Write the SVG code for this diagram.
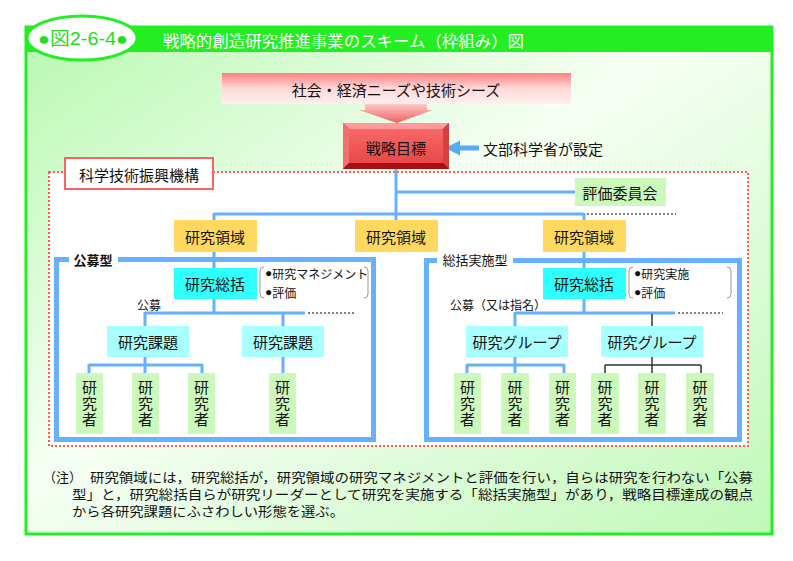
<svg xmlns="http://www.w3.org/2000/svg" width="793" height="561" viewBox="0 0 793 561">
<defs>
<linearGradient id="bg" x1="0" y1="0" x2="1" y2="1">
<stop offset="0" stop-color="#b8f8b0"/>
<stop offset="0.45" stop-color="#f6fff4"/>
<stop offset="1" stop-color="#c0f8b8"/>
</linearGradient>
<linearGradient id="pink" x1="0" y1="0" x2="0" y2="1">
<stop offset="0" stop-color="#ff8080"/>
<stop offset="0.5" stop-color="#ffd8d8"/>
<stop offset="1" stop-color="#fff0f0"/>
</linearGradient>
<linearGradient id="arrowg" x1="0" y1="0" x2="0" y2="1">
<stop offset="0" stop-color="#ffc8c8"/>
<stop offset="1" stop-color="#f06060"/>
</linearGradient>
<linearGradient id="face" x1="0" y1="0" x2="0" y2="1">
<stop offset="0" stop-color="#f86868"/>
<stop offset="1" stop-color="#e84848"/>
</linearGradient>
<marker id="bluehead" viewBox="0 0 10 10" refX="2" refY="5" markerWidth="3" markerHeight="3.2" orient="auto-start-reverse">
<path d="M0,0 L10,5 L0,10 z" fill="#5aaaf5"/>
</marker>
<style>
.t{font-family:"Noto Sans CJK JP","Noto Sans",sans-serif;fill:#111;dominant-baseline:central;text-anchor:middle}
.ts{font-size:15px}
.v{writing-mode:vertical-rl;letter-spacing:1px}
.b{font-family:"Liberation Sans","DejaVu Sans",sans-serif}
.yel{fill:#ffd860}
.cyan{fill:#30ffff}
.lcyan{fill:#a8ffff}
.lgreen{fill:#ccf8bc}
.bl{stroke:#66b0ff;stroke-width:3;fill:none}
.bk{stroke:#333;stroke-width:1.5;fill:none}
.dot{stroke:#555;stroke-width:1.5;stroke-dasharray:2 2;fill:none}
.frame{stroke:#66b0ff;stroke-width:5;fill:none}
.brk{stroke:#999;stroke-width:1;fill:none}
.sm{text-anchor:start;font-size:12px}
.note{font-family:"Liberation Serif","Noto Sans CJK JP",serif;font-size:13px;fill:#111;dominant-baseline:central}
</style>
</defs>

<!-- outer frame -->
<rect x="0" y="0" width="793" height="561" fill="#ffffff"/>
<rect x="26" y="27" width="746" height="507" fill="url(#bg)" stroke="#22ee22" stroke-width="3"/>
<rect x="26" y="27" width="746" height="25" fill="#22ee22"/>
<g id="fig-label">
<ellipse cx="82" cy="38" rx="55" ry="22" fill="#ffffff" stroke="#22ee22" stroke-width="3"/>
<text x="83" y="39" class="t" style="font-size:18px;fill:#22dd22;font-family:'Liberation Sans','Noto Sans CJK JP',sans-serif" textLength="90" lengthAdjust="spacingAndGlyphs">●図2-6-4●</text>
</g>
<text id="title" x="163" y="40" class="t" style="text-anchor:start;font-size:16px;fill:#ffffff" textLength="361" lengthAdjust="spacingAndGlyphs">戦略的創造研究推進事業のスキーム（枠組み）図</text>

<!-- JST dotted area -->
<rect x="49" y="172" width="699" height="274" fill="#ffffff" stroke="#ff5a5a" stroke-width="2" stroke-dasharray="2 2"/>

<!-- blue type frames -->
<g id="frame-koubo">
<rect x="56.5" y="259.5" width="317" height="180" class="frame"/>
<rect x="69" y="253" width="49" height="12" fill="#ffffff"/>
<text x="93" y="259" class="t" style="font-size:13px;font-weight:bold">公募型</text>
</g>
<g id="frame-soukatsu">
<rect x="426.5" y="260.5" width="313" height="179" class="frame"/>
<rect x="437" y="253" width="76" height="13" fill="#ffffff"/>
<text x="475" y="259" class="t" style="font-size:13px">総括実施型</text>
</g>

<!-- connectors -->
<g id="connectors">
<line x1="396" y1="169" x2="396" y2="214" class="bl"/>
<line x1="396" y1="192" x2="575" y2="192" class="bl"/>
<line x1="214" y1="214" x2="584" y2="214" class="bl"/>
<line x1="587" y1="214" x2="676" y2="214" class="dot"/>
<line x1="214" y1="213" x2="214" y2="220" class="bl"/>
<line x1="396" y1="213" x2="396" y2="220" class="bl"/>
<line x1="584" y1="213" x2="584" y2="220" class="bl"/>
<line x1="214" y1="252" x2="214" y2="268" class="bl"/>
<line x1="584" y1="252" x2="584" y2="268" class="bl"/>
<!-- left type -->
<line x1="214" y1="299" x2="214" y2="313" class="bl"/>
<line x1="145" y1="313" x2="305" y2="313" class="bl"/>
<line x1="308" y1="313" x2="354" y2="313" class="dot"/>
<line x1="145" y1="312" x2="145" y2="326" class="bl"/>
<line x1="283" y1="312" x2="283" y2="326" class="bl"/>
<line x1="145" y1="357" x2="145" y2="373" class="bl"/>
<line x1="89" y1="365" x2="202" y2="365" class="bl"/>
<line x1="89" y1="364" x2="89" y2="373" class="bl"/>
<line x1="202" y1="364" x2="202" y2="373" class="bl"/>
<line x1="283" y1="357" x2="283" y2="373" class="bl"/>
<!-- right type -->
<line x1="584" y1="299" x2="584" y2="313" class="bl"/>
<line x1="515" y1="313" x2="675" y2="313" class="bl"/>
<line x1="678" y1="313" x2="723" y2="313" class="dot"/>
<line x1="515" y1="312" x2="515" y2="326" class="bl"/>
<line x1="652" y1="314" x2="652" y2="326" class="bk"/>
<line x1="515" y1="357" x2="515" y2="373" class="bl"/>
<line x1="467" y1="365" x2="564" y2="365" class="bl"/>
<line x1="467" y1="364" x2="467" y2="373" class="bl"/>
<line x1="564" y1="364" x2="564" y2="373" class="bl"/>
<line x1="652" y1="357" x2="652" y2="373" class="bk"/>
<line x1="605" y1="365" x2="701" y2="365" class="bk"/>
<line x1="605" y1="365" x2="605" y2="373" class="bk"/>
<line x1="701" y1="365" x2="701" y2="373" class="bk"/>
<!-- big arrow -->
<path d="M365,104 L427,104 L427,110 L433,110 L397,123 L359,110 L365,110 Z" fill="url(#arrowg)"/>
<!-- blue arrow from MEXT -->
<line x1="479" y1="148" x2="457" y2="148" stroke="#5aaaf5" stroke-width="5" marker-end="url(#bluehead)"/>
</g>

<g id="needs">
<rect x="222" y="73" width="349" height="31" fill="url(#pink)"/>
<text x="396" y="89" class="t ts">社会・経済ニーズや技術シーズ</text>
</g>

<g id="goal">
<rect x="343" y="123" width="106" height="46" fill="#c02020"/>
<polygon points="343,123 449,123 443,129 349,129" fill="#ff9a9a"/>
<polygon points="343,123 349,129 349,163 343,169" fill="#f07070"/>
<polygon points="449,123 443,129 443,163 449,169" fill="#d84040"/>
<polygon points="343,169 349,163 443,163 449,169" fill="#a81010"/>
<rect x="349" y="129" width="94" height="34" fill="url(#face)"/>
<text x="396" y="147" class="t ts">戦略目標</text>
</g>

<text id="mext" x="483" y="148" class="t ts" style="text-anchor:start">文部科学省が設定</text>

<g id="jst-label">
<rect x="65" y="158" width="148" height="31" fill="#ffffff" stroke="#ff6060" stroke-width="2"/>
<text x="139" y="174" class="t ts">科学技術振興機構</text>
</g>

<g id="committee">
<rect x="575" y="178" width="91" height="28" class="lgreen"/>
<text x="620" y="192" class="t ts">評価委員会</text>
</g>

<g id="area1"><rect x="174" y="220" width="83" height="32" class="yel"/><text x="215" y="236" class="t ts">研究領域</text></g>
<g id="area2"><rect x="355" y="220" width="83" height="32" class="yel"/><text x="396" y="236" class="t ts">研究領域</text></g>
<g id="area3"><rect x="543" y="220" width="83" height="32" class="yel"/><text x="584" y="236" class="t ts">研究領域</text></g>

<g id="director1"><rect x="174" y="268" width="83" height="31" class="cyan"/><text x="215" y="283" class="t ts">研究総括</text></g>
<g id="director2"><rect x="543" y="268" width="83" height="31" class="cyan"/><text x="584" y="283" class="t ts">研究総括</text></g>

<g id="note1">
<path d="M264,267 Q260,267 260,271 L260,294 Q260,298 264,298" class="brk"/>
<path d="M364,267 Q368,267 368,271 L368,294 Q368,298 364,298" class="brk"/>
<text x="265" y="273" class="t sm"><tspan class="b">●</tspan>研究マネジメント</text>
<text x="265" y="292" class="t sm"><tspan class="b">●</tspan>評価</text>
</g>
<g id="note2">
<path d="M633,267 Q629,267 629,271 L629,294 Q629,298 633,298" class="brk"/>
<path d="M727,267 Q731,267 731,271 L731,294 Q731,298 727,298" class="brk"/>
<text x="634" y="273" class="t sm"><tspan class="b">●</tspan>研究実施</text>
<text x="634" y="292" class="t sm"><tspan class="b">●</tspan>評価</text>
</g>

<text id="lbl-koubo" x="137" y="304" class="t" style="text-anchor:start;font-size:12px">公募</text>
<text id="lbl-koubo2" x="450" y="304" class="t" style="text-anchor:start;font-size:12px">公募（又は指名）</text>

<g id="theme1"><rect x="107" y="326" width="82" height="31" class="lcyan"/><text x="148" y="341" class="t ts">研究課題</text></g>
<g id="theme2"><rect x="242" y="326" width="82" height="31" class="lcyan"/><text x="283" y="341" class="t ts">研究課題</text></g>
<g id="group1"><rect x="466" y="326" width="102" height="31" class="lcyan"/><text x="517" y="341" class="t ts">研究グループ</text></g>
<g id="group2"><rect x="601" y="326" width="102" height="31" class="lcyan"/><text x="652" y="341" class="t ts">研究グループ</text></g>

<g id="researchers">
<g id="r1"><rect x="76" y="373" width="27" height="61" class="lgreen"/><text x="89.5" y="404" class="t ts v">研究者</text></g>
<g id="r2"><rect x="132" y="373" width="27" height="61" class="lgreen"/><text x="145.5" y="404" class="t ts v">研究者</text></g>
<g id="r3"><rect x="188" y="373" width="27" height="61" class="lgreen"/><text x="201.5" y="404" class="t ts v">研究者</text></g>
<g id="r4"><rect x="269" y="373" width="27" height="61" class="lgreen"/><text x="282.5" y="404" class="t ts v">研究者</text></g>
<g id="r5"><rect x="454" y="373" width="27" height="61" class="lgreen"/><text x="467.5" y="404" class="t ts v">研究者</text></g>
<g id="r6"><rect x="501" y="373" width="28" height="61" class="lgreen"/><text x="515" y="404" class="t ts v">研究者</text></g>
<g id="r7"><rect x="549" y="373" width="27" height="61" class="lgreen"/><text x="562.5" y="404" class="t ts v">研究者</text></g>
<g id="r8"><rect x="591" y="373" width="28" height="61" class="lgreen"/><text x="605" y="404" class="t ts v">研究者</text></g>
<g id="r9"><rect x="638" y="373" width="28" height="61" class="lgreen"/><text x="652" y="404" class="t ts v">研究者</text></g>
<g id="r10"><rect x="686" y="373" width="28" height="61" class="lgreen"/><text x="700" y="404" class="t ts v">研究者</text></g>
</g>

<g id="footnote">
<text x="43" y="477" class="note">（注）</text>
<text x="90" y="477" class="note" textLength="663" lengthAdjust="spacingAndGlyphs">研究領域には，研究総括が，研究領域の研究マネジメントと評価を行い，自らは研究を行わない「公募</text>
<text x="72" y="494" class="note" textLength="681" lengthAdjust="spacingAndGlyphs">型」と，研究総括自らが研究リーダーとして研究を実施する「総括実施型」があり，戦略目標達成の観点</text>
<text x="72" y="511" class="note" textLength="272" lengthAdjust="spacingAndGlyphs">から各研究課題にふさわしい形態を選ぶ。</text>
</g>
</svg>
